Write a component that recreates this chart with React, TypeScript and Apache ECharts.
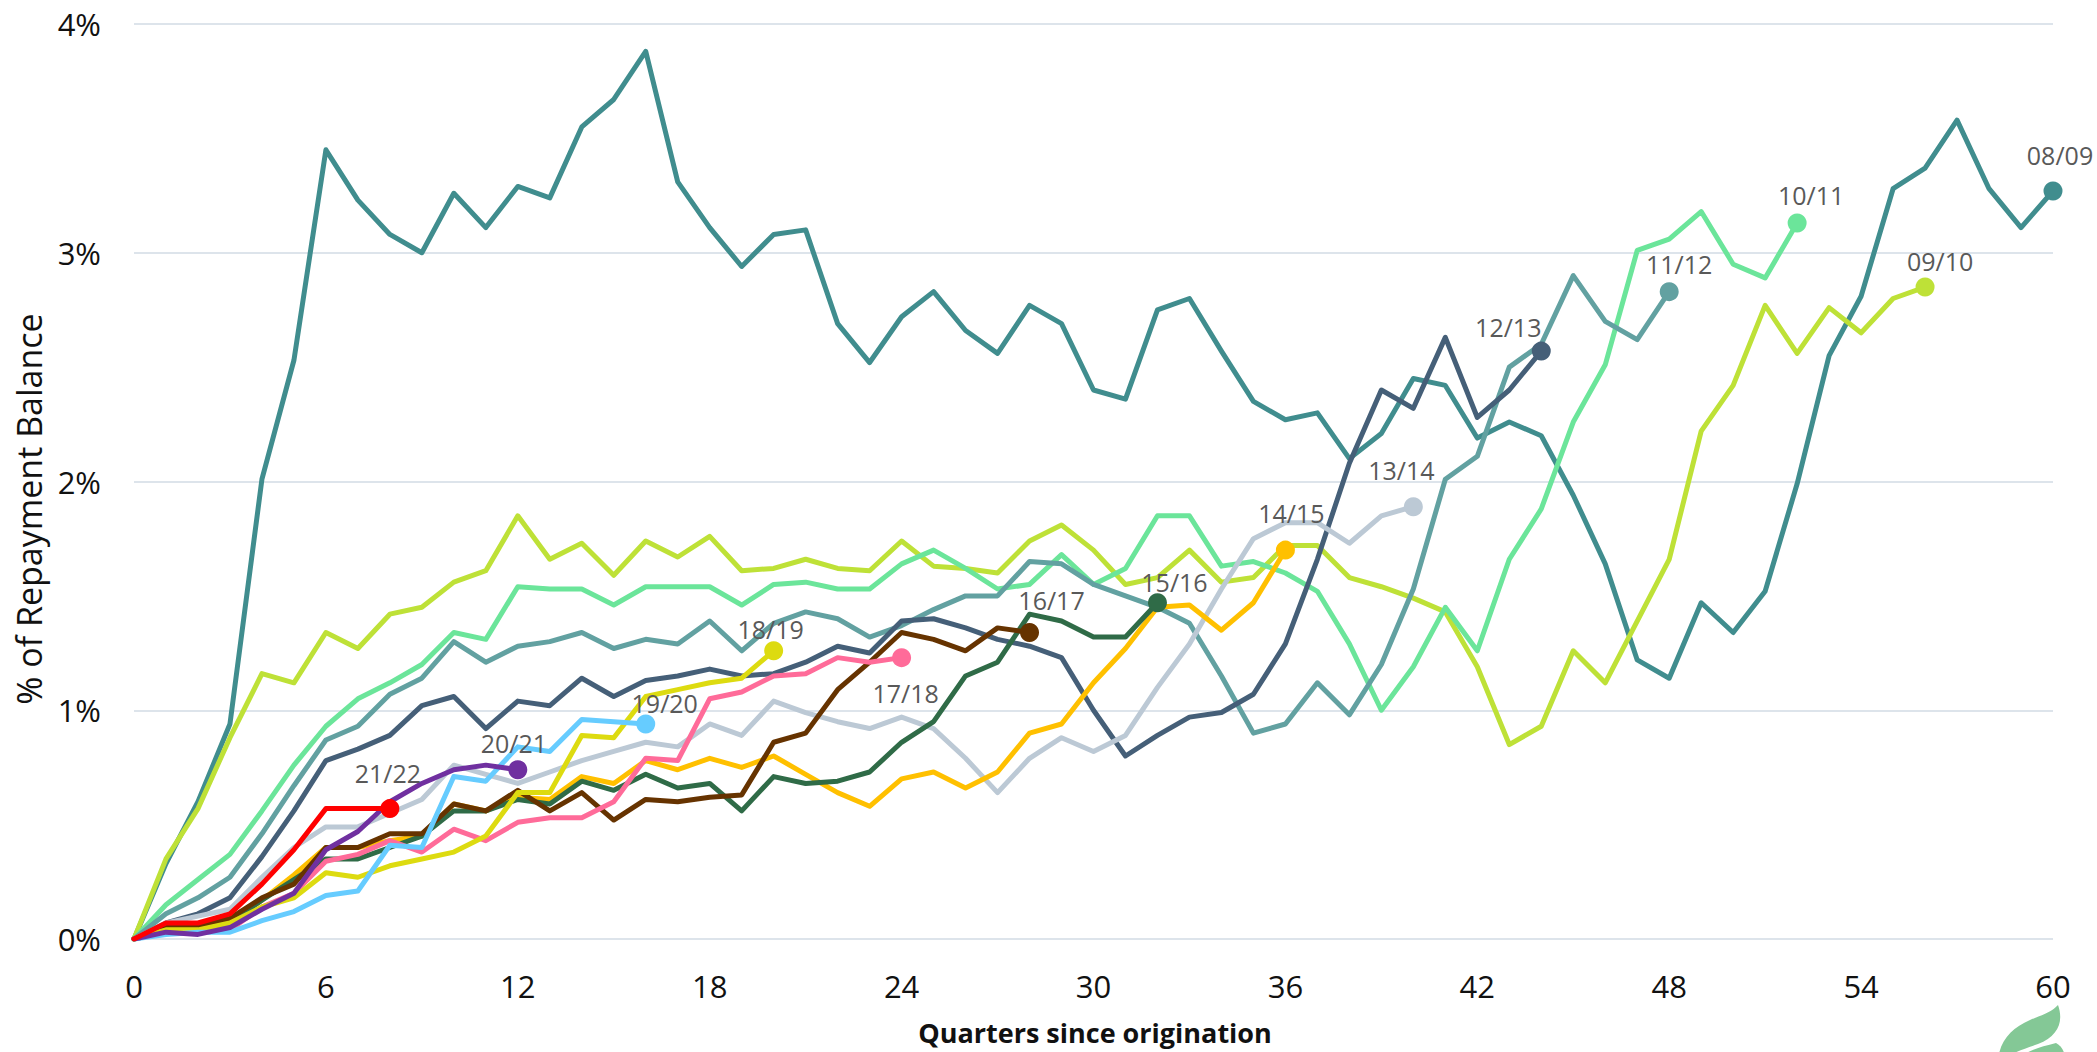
import React, { useEffect, useRef } from "react";
import * as echarts from "echarts";

const vintages = ["08/09", "09/10", "10/11", "11/12", "12/13", "13/14", "14/15", "15/16", "16/17", "17/18", "18/19", "19/20", "20/21", "21/22"];

const s0809 = [0, 0.33, 0.6, 0.94, 2.01, 2.53, 3.45, 3.23, 3.08, 3.0, 3.26, 3.11, 3.29, 3.24, 3.55, 3.67, 3.88, 3.31, 3.11, 2.94, 3.08, 3.1, 2.69, 2.52, 2.72, 2.83, 2.66, 2.56, 2.77, 2.69, 2.4, 2.36, 2.75, 2.8, 2.57, 2.35, 2.27, 2.3, 2.1, 2.21, 2.45, 2.42, 2.19, 2.26, 2.2, 1.94, 1.64, 1.22, 1.14, 1.47, 1.34, 1.52, 1.99, 2.55, 2.81, 3.28, 3.37, 3.58, 3.28, 3.11, 3.27];
const s0910 = [0, 0.35, 0.57, 0.88, 1.16, 1.12, 1.34, 1.27, 1.42, 1.45, 1.56, 1.61, 1.85, 1.66, 1.73, 1.59, 1.74, 1.67, 1.76, 1.61, 1.62, 1.66, 1.62, 1.61, 1.74, 1.63, 1.62, 1.6, 1.74, 1.81, 1.7, 1.55, 1.58, 1.7, 1.56, 1.58, 1.72, 1.72, 1.58, 1.54, 1.49, 1.43, 1.19, 0.85, 0.93, 1.26, 1.12, 1.39, 1.66, 2.22, 2.42, 2.77, 2.56, 2.76, 2.65, 2.8, 2.85];
const s1011 = [0, 0.15, 0.26, 0.37, 0.56, 0.76, 0.93, 1.05, 1.12, 1.2, 1.34, 1.31, 1.54, 1.53, 1.53, 1.46, 1.54, 1.54, 1.54, 1.46, 1.55, 1.56, 1.53, 1.53, 1.64, 1.7, 1.62, 1.53, 1.55, 1.68, 1.55, 1.62, 1.85, 1.85, 1.63, 1.65, 1.6, 1.52, 1.29, 1.0, 1.19, 1.45, 1.26, 1.66, 1.88, 2.26, 2.51, 3.01, 3.06, 3.18, 2.95, 2.89, 3.13];
const s1112 = [0, 0.11, 0.18, 0.27, 0.46, 0.67, 0.87, 0.93, 1.07, 1.14, 1.3, 1.21, 1.28, 1.3, 1.34, 1.27, 1.31, 1.29, 1.39, 1.26, 1.38, 1.43, 1.4, 1.32, 1.37, 1.44, 1.5, 1.5, 1.65, 1.64, 1.55, 1.5, 1.45, 1.38, 1.15, 0.9, 0.94, 1.12, 0.98, 1.2, 1.53, 2.01, 2.11, 2.5, 2.6, 2.9, 2.7, 2.62, 2.83];
const s1213 = [0, 0.07, 0.11, 0.18, 0.36, 0.56, 0.78, 0.83, 0.89, 1.02, 1.06, 0.92, 1.04, 1.02, 1.14, 1.06, 1.13, 1.15, 1.18, 1.15, 1.16, 1.21, 1.28, 1.25, 1.39, 1.4, 1.36, 1.31, 1.28, 1.23, 1.0, 0.8, 0.89, 0.97, 0.99, 1.07, 1.29, 1.66, 2.08, 2.4, 2.32, 2.63, 2.28, 2.4, 2.57];
const s1314 = [0, 0.07, 0.1, 0.13, 0.27, 0.4, 0.49, 0.49, 0.55, 0.61, 0.76, 0.72, 0.68, 0.73, 0.78, 0.82, 0.86, 0.84, 0.94, 0.89, 1.04, 0.99, 0.95, 0.92, 0.97, 0.92, 0.79, 0.64, 0.79, 0.88, 0.82, 0.89, 1.1, 1.29, 1.53, 1.75, 1.82, 1.82, 1.73, 1.85, 1.89];
const s1415 = [0, 0.05, 0.05, 0.08, 0.17, 0.28, 0.4, 0.4, 0.43, 0.45, 0.59, 0.56, 0.62, 0.61, 0.71, 0.68, 0.78, 0.74, 0.79, 0.75, 0.8, 0.72, 0.64, 0.58, 0.7, 0.73, 0.66, 0.73, 0.9, 0.94, 1.12, 1.27, 1.45, 1.46, 1.35, 1.47, 1.7];
const s1516 = [0, 0.03, 0.05, 0.07, 0.17, 0.26, 0.35, 0.35, 0.4, 0.45, 0.56, 0.56, 0.61, 0.59, 0.69, 0.65, 0.72, 0.66, 0.68, 0.56, 0.71, 0.68, 0.69, 0.73, 0.86, 0.95, 1.15, 1.21, 1.42, 1.39, 1.32, 1.32, 1.47];
const s1617 = [0, 0.05, 0.06, 0.09, 0.18, 0.24, 0.4, 0.4, 0.46, 0.46, 0.59, 0.56, 0.65, 0.56, 0.64, 0.52, 0.61, 0.6, 0.62, 0.63, 0.86, 0.9, 1.09, 1.21, 1.34, 1.31, 1.26, 1.36, 1.34];
const s1718 = [0, 0.03, 0.03, 0.04, 0.14, 0.2, 0.34, 0.37, 0.43, 0.38, 0.48, 0.43, 0.51, 0.53, 0.53, 0.6, 0.79, 0.78, 1.05, 1.08, 1.15, 1.16, 1.23, 1.21, 1.23];
const s1819 = [0, 0.04, 0.04, 0.07, 0.14, 0.18, 0.29, 0.27, 0.32, 0.35, 0.38, 0.45, 0.64, 0.64, 0.89, 0.88, 1.06, 1.09, 1.12, 1.14, 1.26];
const s1920 = [0, 0.02, 0.03, 0.03, 0.08, 0.12, 0.19, 0.21, 0.41, 0.4, 0.71, 0.69, 0.84, 0.82, 0.96, 0.95, 0.94];
const s2021 = [0, 0.03, 0.02, 0.05, 0.13, 0.2, 0.39, 0.47, 0.6, 0.68, 0.74, 0.76, 0.74];
const s2122 = [0, 0.07, 0.07, 0.11, 0.24, 0.39, 0.57, 0.57, 0.57];

const seriesValues = [s0809, s0910, s1011, s1112, s1213, s1314, s1415, s1516, s1617, s1718, s1819, s1920, s2021, s2122];

const xTicks = [0, 6, 12, 18, 24, 30, 36, 42, 48, 54, 60];
const yTicks = [0, 1, 2, 3, 4];

const colors = ["#408D8E", "#BEE137", "#6BE59A", "#62A1A1", "#455F78", "#BCC9D5", "#FFC000", "#2F6B47", "#663300", "#FF6B99", "#DDDB10", "#66CCFF", "#7030A0", "#FF0000"];
const labelOffsets: number[][] = [[7, -36], [15, -26], [14, -28], [10, -28], [-33, -24], [-12, -37], [6, -37], [17, -21], [22, -32], [4, 35], [-3, -22], [19, -21], [-4, -27], [-2, -36]];

const FONT = "'Open Sans', 'Noto Sans', sans-serif";

export default function App() {
  const ref = useRef<HTMLDivElement>(null);
  useEffect(() => {
    if (!ref.current) return;
    echarts.graphic.registerShape(
      "leafTop",
      echarts.graphic.extendPath("M2058,1005 C2064,1022 2058,1036 2038,1044 C2025,1049 2012,1052 2004,1060 L1998,1060 C2000,1040 2012,1028 2030,1020 C2042,1015 2052,1012 2058,1005 Z", {})
    );
    echarts.graphic.registerShape(
      "leafBottom",
      echarts.graphic.extendPath("M2018,1060 C2025,1051 2040,1047 2056,1043 C2062,1046 2065,1052 2065,1060 Z", {})
    );
    const chart = echarts.init(ref.current, null, { renderer: "svg" });
    const series = seriesValues.map((vals, si) => ({
      type: "line",
      name: vintages[si],
      silent: true,
      symbol: "none",
      showSymbol: true,
      lineStyle: { color: colors[si], width: 5, join: "round", cap: "round" },
      itemStyle: { color: colors[si] },
      z: 2 + si,
      data: vals.map((v, i) => {
        if (i === vals.length - 1) {
          return {
            value: [i, v],
            symbol: "circle",
            symbolSize: 19,
            label: {
              show: true,
              formatter: vintages[si],
              position: "inside",
              align: "center",
              verticalAlign: "middle",
              offset: labelOffsets[si],
              fontSize: 25,
              fontFamily: FONT,
              color: "#595959",
            },
          };
        }
        return { value: [i, v] };
      }),
    }));
    const option: any = {
      animation: false,
      backgroundColor: "#ffffff",
      grid: { left: 134, right: 44, top: 24, bottom: 113, containLabel: false },
      xAxis: {
        type: "value",
        min: xTicks[0],
        max: xTicks[xTicks.length - 1],
        interval: 6,
        axisLine: { show: false },
        axisTick: { show: false },
        splitLine: { show: false },
        axisLabel: { fontSize: 31, color: "#111", fontFamily: FONT, margin: 31 },
      },
      yAxis: {
        type: "value",
        min: yTicks[0],
        max: yTicks[yTicks.length - 1],
        interval: 1,
        axisLine: { show: false },
        axisTick: { show: false },
        splitLine: { show: true, lineStyle: { color: "#DDE4EB", width: 2 } },
        axisLabel: { fontSize: 31, color: "#111", fontFamily: FONT, margin: 33, formatter: "{value}%" },
      },
      graphic: [
        {
          type: "text",
          x: 29,
          y: 509,
          rotation: Math.PI / 2,
          style: { text: "% of Repayment Balance", fontSize: 34, fontFamily: FONT, fill: "#111", align: "center", verticalAlign: "middle" },
        },
        {
          type: "text",
          x: 1095,
          y: 1032,
          style: { text: "Quarters since origination", fontSize: 27, fontWeight: "bold", fontFamily: FONT, fill: "#111", align: "center", verticalAlign: "middle" },
        },
        { type: "leafTop", x: 0, y: 0, style: { fill: "#84C896" } },
        { type: "leafBottom", x: 0, y: 0, style: { fill: "#84C896" } },
      ],
      series,
    };
    chart.setOption(option);
    return () => chart.dispose();
  }, []);
  return <div ref={ref} style={{ position: "fixed", left: 0, top: 0, width: 2097, height: 1052, background: "#fff" }} />;
}
